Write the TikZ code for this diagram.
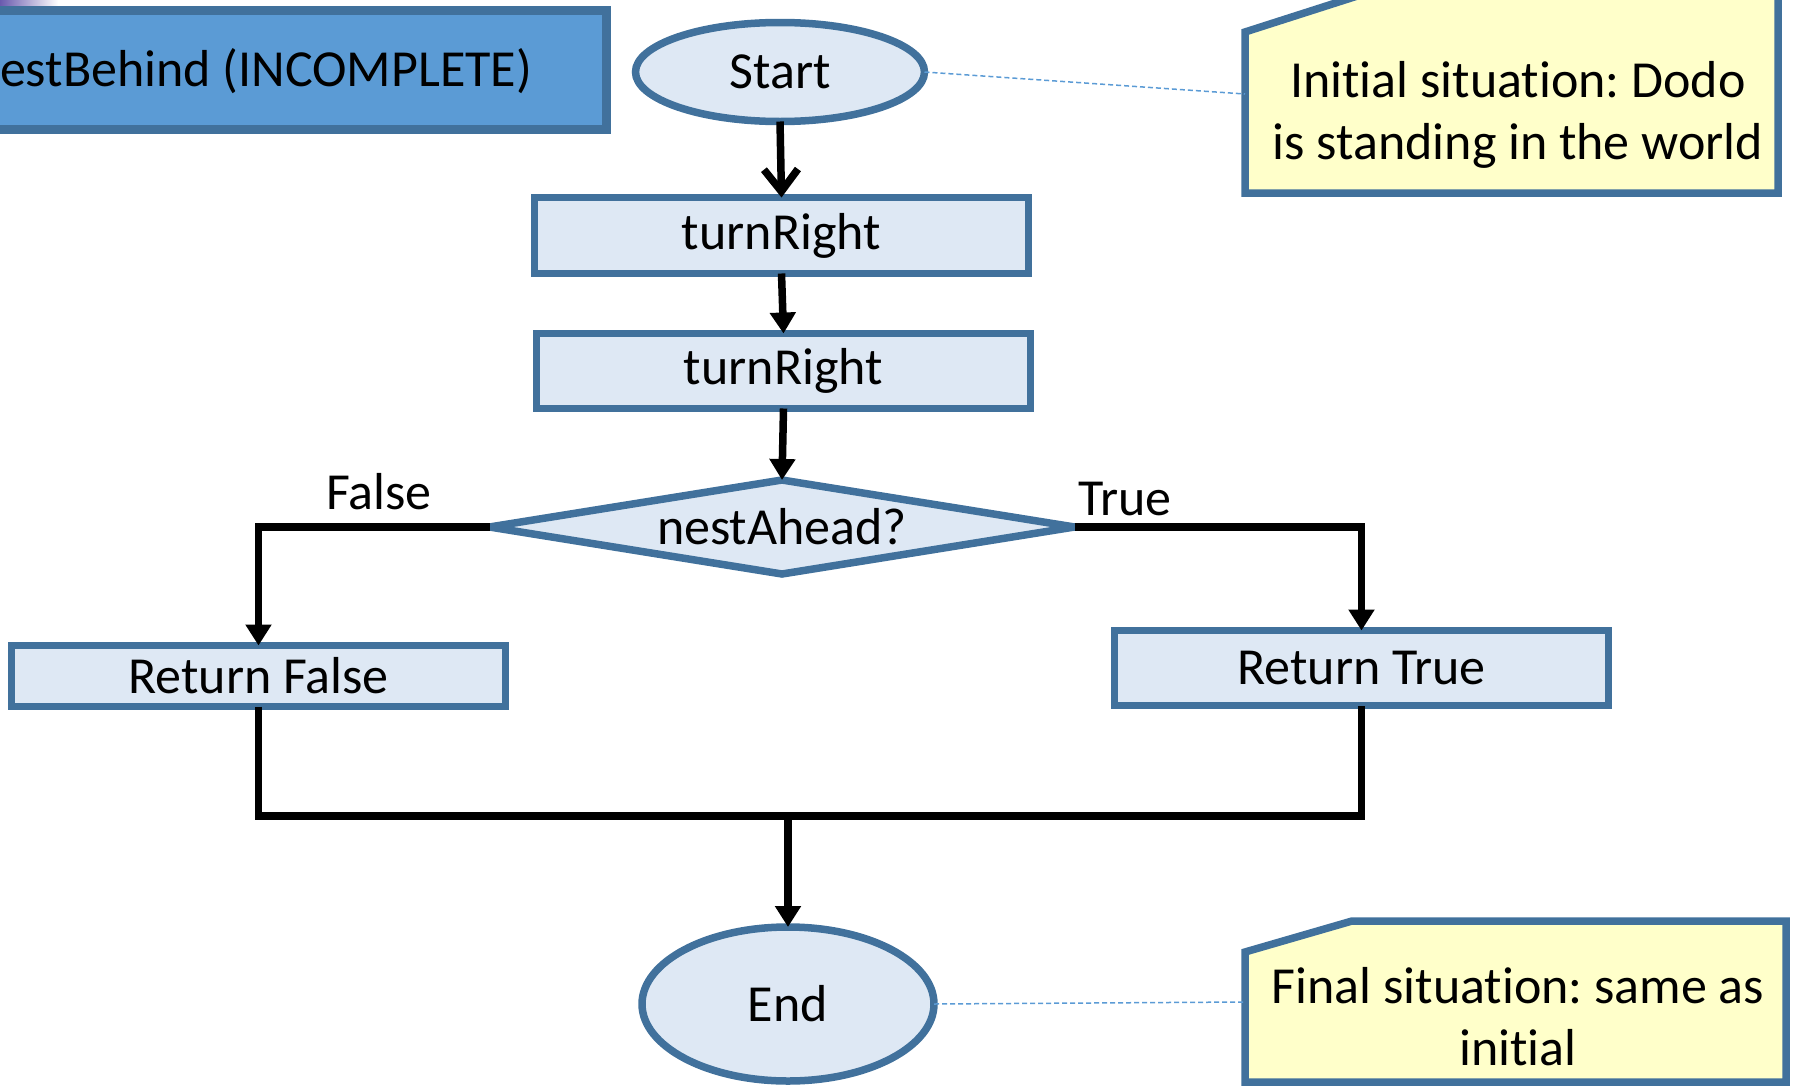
\documentclass[tikz,border=0pt]{standalone}
\usepackage{fontspec}
\setmainfont[Ligatures=NoCommon]{Carlito}
\usetikzlibrary{arrows.meta,shapes.geometric}
\definecolor{boxfill}{HTML}{DEE8F4}
\definecolor{boxline}{HTML}{41719C}
\definecolor{titlefill}{HTML}{5B9BD5}
\definecolor{notefill}{HTML}{FFFFCA}
\definecolor{leaderline}{HTML}{5B9BD5}
\definecolor{cornerpurple}{HTML}{6A5AAE}
\frenchspacing
\begin{document}
\begin{tikzpicture}[x=1pt,y=-1pt,
  every node/.style={font=\fontsize{52}{62}\selectfont, inner sep=0pt, outer sep=0pt},
  flowbox/.style={draw=boxline, fill=boxfill, line width=7.5pt, rectangle, minimum width=494pt},
  terminal/.style={draw=boxline, fill=boxfill, line width=7.5pt, ellipse},
  decision/.style={draw=boxline, fill=boxfill, line width=7.5pt, diamond, aspect=6.1,
    minimum width=585pt, minimum height=94pt},
  notebox/.style={draw=boxline, fill=notefill, line width=7.5pt, line join=miter},
  flow/.style={line width=7.5pt, -{Triangle[width=25pt,length=21pt]}},
  openflow/.style={line width=7.5pt, -{Straight Barb[width=34pt,length=22pt]}},
  joinline/.style={line width=7.5pt, line join=miter},
  leader/.style={draw=leaderline, line width=1.5pt, dash pattern=on 5pt off 3pt},
  branchlabel/.style={anchor=center}
]
\useasboundingbox (0,0) rectangle (1794,1087);

% heading bar, partly cut by the left edge
\shade[left color=cornerpurple, right color=white] (0,0) rectangle (58,6);
\draw[draw=boxline, fill=titlefill, line width=9pt] (-30,10) rectangle (606,129);
\node[anchor=west] (title) at (0,71) {estBehind (INCOMPLETE)};

% flow chart
\node[terminal, minimum width=289pt, minimum height=99pt] (start) at (780,72) {Start};
\node[flowbox, minimum height=76pt] (tr1) at (781.5,235.5) {turnRight};
\node[flowbox, minimum height=75pt] (tr2) at (783.5,371) {turnRight};
\node[decision] (dec) at (782,527) {nestAhead?};
\node[flowbox, minimum height=61pt] (rf) at (258.5,676) {Return False};
\node[flowbox, minimum height=75pt] (rt) at (1361.5,668) {Return True};
\node[terminal, minimum width=292pt, minimum height=154pt] (finish) at (788,1004) {End};
\coordinate (merge) at (788,816);

\node[branchlabel] (lblF) at (379,492) {False};
\node[branchlabel] (lblT) at (1125,499) {True};

\draw[openflow] (start.south) -- (tr1.north);
\draw[flow] (tr1.south) -- (tr2.north);
\draw[flow] (tr2.south) -- (dec.north);
\draw[flow] (dec.west) -| (rf.north);
\draw[flow] (dec.east) -| (rt.north);
\draw[joinline] (rf.south) -- (rf.south |- merge) -- (rt.south |- merge) -- (rt.south);
\draw[flow] (merge) -- (finish.north);

% annotation notes with a snipped corner
\draw[notebox] (1245,32) -- (1376,-10) -- (1778,-10) -- (1778,193) -- (1245,193) -- cycle;
\coordinate (n1w) at (1245,94);
\node[align=center] (note1) at (1518,115) {Initial situation: Dodo\\is standing in the world};

\draw[notebox] (1245,952) -- (1352,921) -- (1786,921) -- (1786,1082) -- (1245,1082) -- cycle;
\coordinate (n2w) at (1245,1002);
\node[align=center] (note2) at (1518,1017) {Final situation: same as\\initial};

\draw[leader] (start.east) -- (n1w);
\draw[leader] (finish.east) -- (n2w);
\end{tikzpicture}
\end{document}
